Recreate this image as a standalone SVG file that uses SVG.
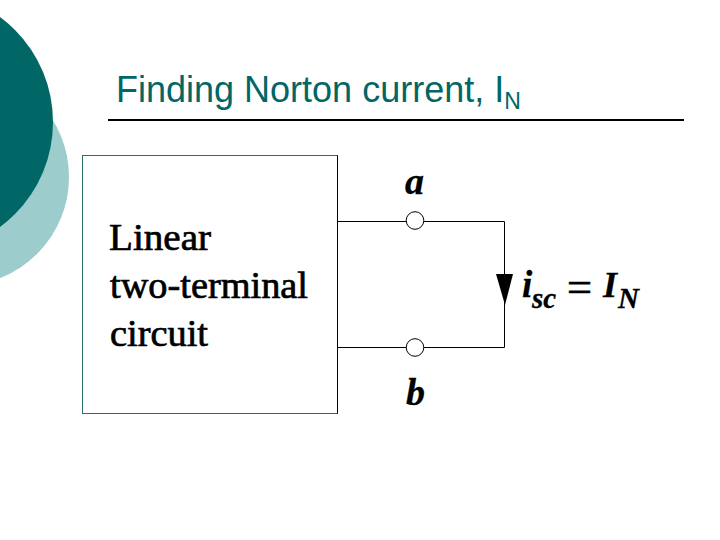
<svg xmlns="http://www.w3.org/2000/svg" width="720" height="540" viewBox="0 0 720 540">
<style>
.w{fill:none;stroke:#000;stroke-width:1}
.t{fill:#fff;stroke:#000;stroke-width:1}
.m{font-family:"Liberation Serif",serif;fill:#000;stroke:#000;stroke-width:0.7}
.i{font-style:italic;font-weight:bold;stroke-width:0.3}
</style>
<rect width="720" height="540" fill="#fff"/>
<g id="decor">
<circle cx="-39.4" cy="177" r="108.4" fill="#9dcccd"/>
<circle cx="-77.5" cy="122" r="130.5" fill="#006666"/>
</g>
<g id="title">
<text x="116" y="102" font-family="'Liberation Sans',sans-serif" font-size="36" fill="#006666">Finding Norton current, I<tspan font-size="23" dy="7">N</tspan></text>
<line x1="108" y1="120" x2="684" y2="120" stroke="#000" stroke-width="2"/>
</g>
<g id="circuit-box">
<rect x="82.500" y="155.500" width="255" height="258" fill="#fff" stroke="#2a6f6f" stroke-width="1"/>
<path d="M337.500 155.500V413.500" stroke="#000" fill="none"/>
<text class="m" font-size="37" x="109" y="250" textLength="102" lengthAdjust="spacingAndGlyphs">Linear</text>
<text class="m" font-size="37" x="110" y="298" textLength="198" lengthAdjust="spacingAndGlyphs">two-terminal</text>
<text class="m" font-size="37" x="110" y="346" textLength="98" lengthAdjust="spacingAndGlyphs">circuit</text>
</g>
<g id="connectors">
<path class="w" d="M338 221.500H504.500V347.500H338"/>
<path d="M496 274H513L505 305Z" fill="#000"/>
</g>
<g id="terminal-a">
<circle class="t" cx="415" cy="220.500" r="8.800"/>
<text class="m i" font-size="38" x="405" y="194">a</text>
</g>
<g id="terminal-b">
<circle class="t" cx="415" cy="347.500" r="8.800"/>
<text class="m i" font-size="38" x="406" y="405">b</text>
</g>
<g id="current-label">
<text class="m i" font-size="37" x="522" y="297">i</text>
<text class="m i" font-size="29" x="532" y="308">sc</text>
<text class="m" font-size="42" x="567" y="301" textLength="25" lengthAdjust="spacingAndGlyphs">=</text>
<text class="m i" font-size="36" x="603" y="297">I</text>
<text class="m i" font-size="29" x="618" y="308">N</text>
</g>
</svg>
